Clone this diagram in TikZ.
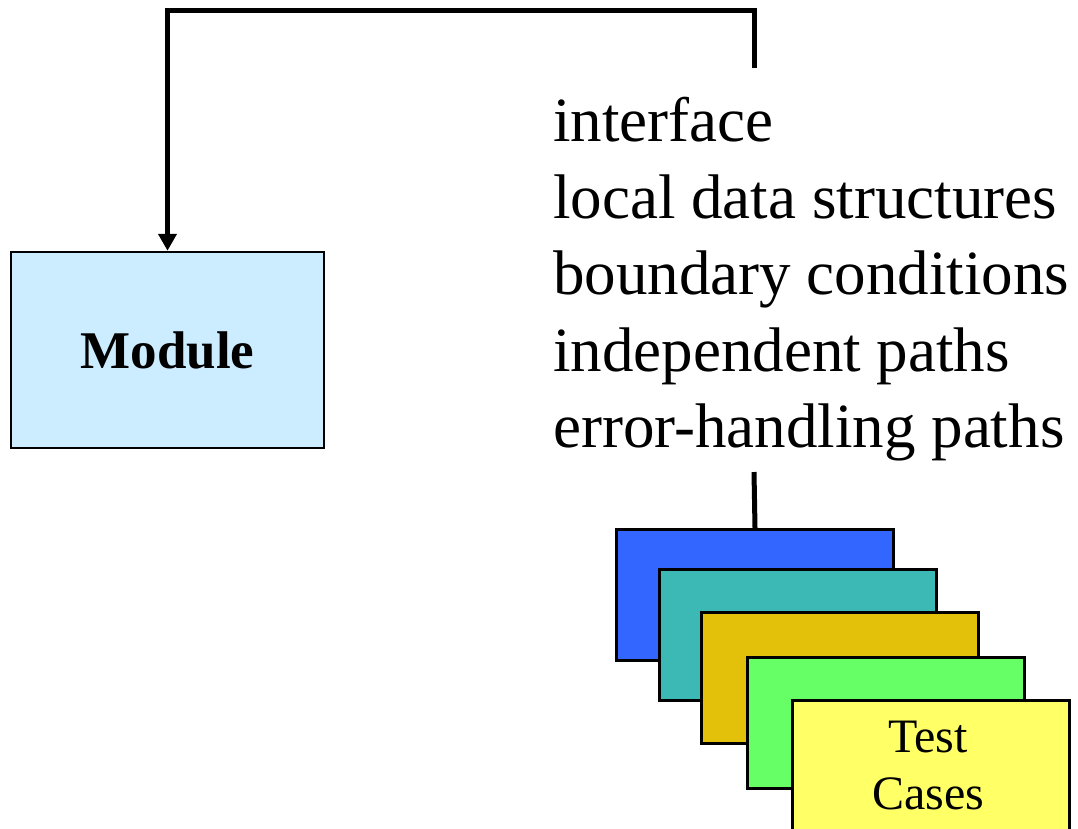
\documentclass[tikz,border=0pt]{standalone}
\usepackage{fontspec}
\setmainfont{Liberation Serif}
\usetikzlibrary{arrows.meta}
\definecolor{modfill}{HTML}{CCECFF}
\definecolor{cardA}{HTML}{3366FF}
\definecolor{cardB}{HTML}{3DB9B5}
\definecolor{cardC}{HTML}{E3C10A}
\definecolor{cardD}{HTML}{66FF66}
\definecolor{cardE}{HTML}{FFFF66}
\tikzset{
  modbox/.style={draw=black, line width=2.5pt, fill=modfill, rectangle,
    minimum width=313pt, minimum height=196pt, inner sep=0pt,
    font=\fontsize{53}{60}\selectfont\bfseries},
  card/.style={draw=black, line width=3pt, rectangle, anchor=north west,
    minimum width=277pt, minimum height=131pt, inner sep=0pt},
  conn/.style={line width=5pt, draw=black},
  listtext/.style={align=left, inner sep=0pt, anchor=north west,
    font=\fontsize{63}{76.5}\selectfont},
  tctext/.style={align=center, inner sep=0pt,
    font=\fontsize{48}{57}\selectfont}
}
\begin{document}
\begin{tikzpicture}[x=1pt, y=-1pt]
  \useasboundingbox (0,0) rectangle (1078,828);
  \clip (0,0) rectangle (1078,828);

  % module under test
  \node[modbox] (module) at (167.5,350) {Module};

  % aspects to be tested
  \node[listtext] (list) at (553,97) {interface\\local data structures\\boundary conditions\\independent paths\\error-handling paths};

  \coordinate (listtop) at (754,68);
  \coordinate (listbot) at (754,472);

  % stack of test case cards
  \node[card, fill=cardA] (c1) at (615,528) {};
  \node[card, fill=cardB] (c2) at (658,568) {};
  \node[card, fill=cardC] (c3) at (700,611) {};
  \node[card, fill=cardD] (c4) at (746,656) {};
  \node[card, fill=cardE] (c5) at (791,699) {};
  \node[tctext] (tc) at (928,766) {Test\\Cases};

  % connectors
  \draw[conn, -{Triangle[width=18pt,length=17pt]}] (listtop) -- ++(0,-58) -| (module.north);
  \draw[conn] (listbot) -- (c1.north);
\end{tikzpicture}
\end{document}
